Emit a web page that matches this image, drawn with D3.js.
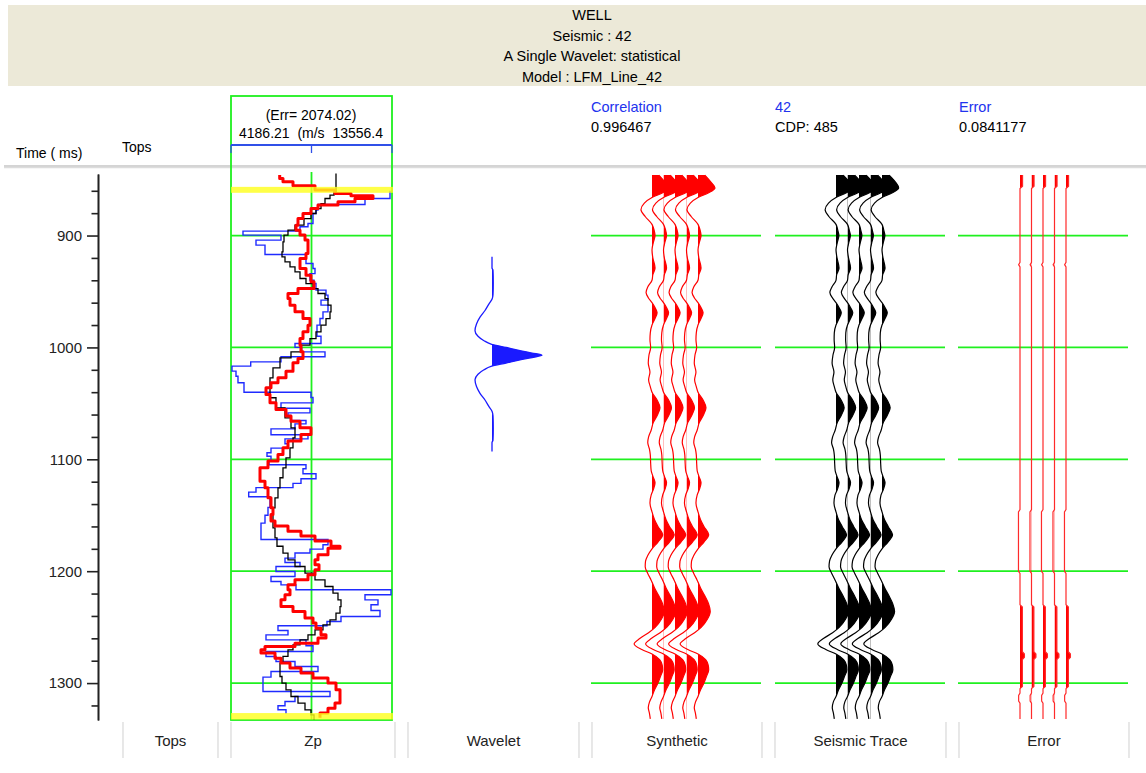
<!DOCTYPE html>
<html>
<head>
<meta charset="utf-8">
<script src="https://cdn.jsdelivr.net/npm/d3@7"></script>
<style>
  body { margin: 0; background: #fff; }
  svg { display: block; }
  text { font-family: "Liberation Sans", Arial, sans-serif; }
</style>
</head>
<body>
<svg id="chart" width="1146" height="773"></svg>
<script>
// ---- header / labels ----
const titleLines = ["WELL", "Seismic : 42", "A Single Wavelet: statistical", "Model : LFM_Line_42"];
const trackNames = ["Tops", "Zp", "Wavelet", "Synthetic", "Seismic Trace", "Error"];
const zpRange = [4186.21, 13556.4];
const zpErr = 2074.02;
const correlation = 0.996467;
const seismicName = "42";
const cdp = 485;
const traceError = 0.0841177;

// ---- time axis (ms) ----
const timeDomain = [845, 1333];
const majorTicks = [900, 1000, 1100, 1200, 1300];
const minorTicks = [860, 880, 920, 940, 960, 980, 1020, 1040, 1060, 1080, 1120, 1140, 1160, 1180, 1220, 1240, 1260, 1280, 1320];

// log marker intervals (ms)
const markerBands = [[856.5, 861.8], [1326.8, 1332.6]];

// ---- Zp well log (blocky), time of each step and value ----
const logTime = [860.0, 866.9, 872.3, 877.3, 880.3, 889.3, 892.2, 896.1, 899.6, 904.1, 908.6, 917.0, 925.0, 929.5, 934.0, 939.9, 942.9, 948.8, 953.3, 957.7, 962.2, 968.2, 974.2, 980.1, 990.0, 996.5, 1000.0, 1004.0, 1008.4, 1012.9, 1016.7, 1021.2, 1025.7, 1031.6, 1040.0, 1044.8, 1049.6, 1054.3, 1058.5, 1060.9, 1065.3, 1068.3, 1072.8, 1078.1, 1081.7, 1086.1, 1090.0, 1094.2, 1097.2, 1101.0, 1104.9, 1108.5, 1112.9, 1117.4, 1121.5, 1125.3, 1129.3, 1133.4, 1143.0, 1150.0, 1157.0, 1171.7, 1176.4, 1180.3, 1183.8, 1188.3, 1192.2, 1195.8, 1200.3, 1204.7, 1209.2, 1212.2, 1216.6, 1221.1, 1225.6, 1230.0, 1235.1, 1240.5, 1245.0, 1248.8, 1253.0, 1256.9, 1261.4, 1266.7, 1271.8, 1276.3, 1280.7, 1285.2, 1289.7, 1294.7, 1307.5, 1312.0, 1316.5, 1320.3, 1323.9, 1327.5];
const logZp = [13440, 11985, 9249, 9133, 8958, 8667, 8202, 4884, 7096, 5641, 6165, 8551, 8958, 9075, 8784, 9017, 9133, 9715, 9831, 9424, 9831, 9540, 9366, 9191, 9424, 7911, 8300, 9657, 7096, 5333, 4244, 4477, 4593, 4943, 8842, 8958, 7096, 8784, 7503, 7678, 8551, 7911, 6514, 8667, 7329, 7503, 6514, 6281, 6514, 6400, 8551, 8376, 9133, 8260, 7794, 5641, 5216, 6456, 6339, 6165, 5932, 9831, 9540, 8784, 7911, 7329, 8202, 6805, 7911, 6514, 7096, 7969, 13498, 11985, 12741, 12334, 12858, 10588, 9773, 6921, 7503, 6223, 8551, 8958, 6223, 6805, 7911, 9249, 6514, 6048, 9948, 7911, 7329, 6921, 7387, 7387];

// ---- initial (low-frequency) model ----
const modelTime = [844.6, 856.5, 861.0, 863.9, 866.9, 871.4, 875.9, 880.3, 884.8, 890.7, 895.2, 899.6, 905.6, 914.6, 919.0, 923.5, 928.0, 932.4, 938.4, 942.9, 947.4, 951.8, 956.3, 962.2, 968.2, 974.2, 980.1, 986.1, 992.1, 998.0, 1003.9, 1009.3, 1018.2, 1027.2, 1036.1, 1045.0, 1054.0, 1062.9, 1071.9, 1080.8, 1089.7, 1098.7, 1107.6, 1116.5, 1125.5, 1134.4, 1143.4, 1152.3, 1161.2, 1170.2, 1177.7, 1183.8, 1189.8, 1195.8, 1201.7, 1207.7, 1213.7, 1219.6, 1225.6, 1231.6, 1237.5, 1243.5, 1248.0, 1252.4, 1256.9, 1261.4, 1265.8, 1270.3, 1276.2, 1282.1, 1288.1, 1294.1, 1300.0, 1306.0, 1312.0, 1317.9, 1323.9, 1328.4, 1332.5];
const modelZp = [10297, 10297, 10181, 9948, 9657, 9424, 9133, 8842, 8435, 7911, 7503, 7271, 7212, 7154, 7329, 7620, 7911, 8202, 8551, 8958, 9249, 9657, 9831, 10006, 9948, 9715, 9424, 9133, 8784, 8260, 7678, 7038, 6630, 6456, 6456, 6805, 7329, 7678, 7911, 7794, 7620, 7387, 7212, 7038, 6921, 6747, 6630, 6630, 6747, 6863, 7212, 7503, 7911, 8493, 9075, 9657, 10122, 10413, 10588, 10530, 10297, 9948, 9540, 9075, 8667, 8202, 7794, 7503, 7212, 7038, 7038, 7154, 7387, 7678, 8085, 8493, 8842, 9017, 9017];

// ---- inverted Zp ----
const invTime = [846.0, 849.1, 852.0, 855.6, 859.4, 862.5, 864.5, 866.9, 869.9, 872.8, 875.9, 880.3, 884.8, 890.7, 895.2, 899.6, 904.1, 910.1, 916.1, 920.6, 925.0, 929.5, 935.4, 941.4, 947.4, 951.8, 956.3, 962.2, 968.2, 974.2, 980.1, 986.1, 992.1, 998.0, 1003.9, 1009.9, 1013.8, 1021.2, 1027.2, 1031.6, 1036.1, 1042.1, 1049.5, 1055.5, 1061.4, 1065.9, 1071.9, 1077.8, 1083.7, 1089.7, 1095.7, 1101.6, 1107.6, 1113.6, 1119.5, 1125.5, 1134.4, 1143.4, 1149.3, 1155.2, 1159.7, 1164.2, 1168.6, 1173.1, 1177.6, 1179.4, 1185.4, 1189.8, 1194.3, 1198.8, 1203.2, 1207.7, 1212.2, 1216.6, 1221.1, 1225.6, 1231.6, 1236.0, 1241.9, 1246.4, 1250.9, 1256.8, 1259.8, 1264.3, 1267.3, 1270.2, 1273.2, 1277.7, 1282.1, 1286.6, 1291.1, 1295.5, 1300.0, 1306.0, 1312.0, 1317.9, 1322.4, 1326.8, 1331.0];
const invZp = [7020, 7212, 7794, 9075, 10239, 11170, 12450, 11403, 10413, 9249, 8842, 8376, 8085, 7969, 8202, 8493, 8667, 8667, 8551, 8202, 8202, 8551, 8842, 9017, 8085, 7503, 7620, 7911, 8376, 8784, 8667, 8376, 8202, 8260, 8376, 8085, 7794, 7387, 6921, 6514, 6223, 6456, 6805, 7387, 7678, 8202, 8842, 8260, 7503, 7212, 6921, 6339, 5874, 5874, 6165, 6339, 6514, 6630, 6514, 6747, 7503, 8260, 9075, 10006, 10530, 9831, 9249, 9075, 9308, 9075, 8667, 7911, 7503, 7620, 7329, 7096, 7794, 8493, 8958, 9133, 9424, 9715, 9249, 7911, 6165, 5932, 6747, 7096, 7620, 8260, 8958, 9831, 10297, 10530, 10530, 10239, 9831, 9366, 9366];

// ---- statistical wavelet (time relative to centre, ms) ----
const waveletTime = [-88, -78, -76, -65, -54, -50, -46, -40, -34, -28, -22, -17, -13, -10, -7, -4, -2, 0, 2, 4, 7, 10, 13, 17, 22, 28, 34, 40, 46, 50, 54, 65, 76, 78, 86];
const waveletAmp = [0, 0, 0.02, 0.025, 0.02, 0, -0.06, -0.14, -0.24, -0.31, -0.34, -0.28, -0.16, -0.02, 0.28, 0.58, 0.8, 1.0, 0.8, 0.58, 0.28, -0.02, -0.16, -0.28, -0.34, -0.31, -0.24, -0.14, -0.06, 0, 0.02, 0.025, 0.02, 0, 0];
const waveletCentre = 1007;

// ---- synthetic / seismic traces (normalised amplitude) ----
const traceTime = [846, 852, 857.5, 862, 866, 871, 877, 883, 890, 895, 900, 906, 913, 920, 929, 935, 940, 946, 951, 956, 960, 965, 969, 975, 980, 987, 993, 1000, 1007, 1014, 1022, 1029, 1035, 1040, 1047, 1054, 1061, 1067, 1074, 1080, 1085, 1091, 1096, 1103, 1110, 1115, 1121, 1127, 1132, 1139, 1147, 1154, 1160, 1167.5, 1174, 1180, 1186, 1191, 1196, 1202, 1208, 1215, 1222, 1229, 1236, 1243, 1250, 1255, 1260, 1265, 1270, 1274, 1279, 1284, 1288, 1294, 1300, 1306, 1312, 1317, 1322, 1327, 1332];
const synthAmp = [0.4, 0.75, 1.0, 0.6, 0.0, -0.45, -0.65, -0.4, 0.0, 0.12, 0.18, 0.08, 0.0, 0.05, 0.18, 0.05, 0.0, -0.25, -0.35, -0.2, 0.0, 0.2, 0.3, 0.15, 0.0, -0.1, -0.12, -0.08, -0.18, -0.22, -0.12, -0.2, -0.1, 0.0, 0.3, 0.47, 0.3, 0.08, -0.05, -0.2, -0.25, -0.15, -0.1, -0.08, -0.05, 0.05, 0.18, 0.08, -0.05, -0.12, 0.0, 0.15, 0.35, 0.63, 0.35, 0.0, -0.25, -0.38, -0.4, -0.25, -0.05, 0.15, 0.4, 0.62, 0.72, 0.55, 0.2, -0.2, -0.7, -1.05, -0.6, 0.0, 0.45, 0.6, 0.63, 0.5, 0.35, 0.15, 0.0, -0.15, -0.22, -0.15, -0.1];
const seismicAmp = [0.42, 0.78, 0.98, 0.58, 0.0, -0.44, -0.64, -0.42, 0.0, 0.1, 0.17, 0.08, 0.0, 0.06, 0.18, 0.04, 0.0, -0.24, -0.36, -0.2, 0.0, 0.2, 0.31, 0.15, 0.0, -0.1, -0.11, -0.08, -0.18, -0.23, -0.12, -0.19, -0.1, 0.0, 0.3, 0.48, 0.3, 0.08, -0.05, -0.2, -0.26, -0.15, -0.1, -0.08, -0.05, 0.05, 0.18, 0.08, -0.06, -0.12, 0.0, 0.15, 0.36, 0.62, 0.35, 0.0, -0.25, -0.38, -0.41, -0.25, -0.05, 0.16, 0.41, 0.63, 0.74, 0.56, 0.2, -0.2, -0.72, -1.07, -0.6, 0.0, 0.45, 0.61, 0.64, 0.5, 0.35, 0.15, 0.0, -0.16, -0.22, -0.15, -0.1];

// ---- residual (seismic - synthetic) ----
const errTime = [846, 856, 858, 924, 926, 928, 1145, 1147, 1200, 1202, 1230, 1232, 1272, 1274, 1277, 1279, 1303, 1305, 1309, 1311, 1316, 1318, 1332];
const errAmp = [0.15, 0.15, 0, 0, -0.08, 0, 0, -0.09, -0.09, 0, 0, 0.14, 0.14, 0.26, 0.26, 0.14, 0.14, 0, 0, -0.08, -0.08, 0, 0];

// =================== drawing ===================
const svg = d3.select("#chart");
const defs = svg.append("defs");
const GREEN = "#1ff01f";

const y = d3.scaleLinear().domain(timeDomain).range([174, 720]);
const xZp = d3.scaleLinear().domain(zpRange).range([231, 392]);
const ampScale = d3.scaleLinear().domain([0, 1]).range([0, 17]);
const wavScale = d3.scaleLinear().domain([0, 1]).range([0, 50]);

// title band
svg.append("rect").attr("x", 8).attr("y", 5).attr("width", 1138).attr("height", 81).attr("fill", "#ece9d8");
svg.selectAll("text.title").data(titleLines).join("text")
  .attr("class", "title")
  .attr("x", 592).attr("y", (d, i) => 20 + i * 20.5)
  .attr("text-anchor", "middle").attr("font-size", 14.5).attr("fill", "#000")
  .text(d => d);

// separator under the column headers
svg.append("line").attr("x1", 4).attr("x2", 1146).attr("y1", 166).attr("y2", 166).attr("stroke", "#a8a8a8").attr("stroke-width", 1);
svg.append("line").attr("x1", 4).attr("x2", 1146).attr("y1", 167.5).attr("y2", 167.5).attr("stroke", "#dcdcdc").attr("stroke-width", 1.5);

// column headers
svg.append("text").attr("x", 16).attr("y", 158).attr("font-size", 14).text("Time ( ms)");
svg.append("text").attr("x", 122).attr("y", 152).attr("font-size", 14).text("Tops");

// Zp header box
svg.append("rect").attr("x", 231).attr("y", 96).attr("width", 161).attr("height", 624)
  .attr("fill", "none").attr("stroke", GREEN).attr("stroke-width", 1.8);
svg.append("text").attr("x", 311).attr("y", 120).attr("text-anchor", "middle").attr("font-size", 14)
  .text(`(Err= ${zpErr.toFixed(2)})`);
svg.append("text").attr("x", 311).attr("y", 138).attr("text-anchor", "middle").attr("font-size", 14)
  .attr("xml:space", "preserve")
  .text(`${zpRange[0]}  (m/s  ${zpRange[1]}`);
const zpAxis = svg.append("g").attr("transform", "translate(0,145)");
zpAxis.append("line").attr("x1", xZp(zpRange[0])).attr("x2", xZp(zpRange[1])).attr("stroke", "#3050e8").attr("stroke-width", 2);
zpAxis.selectAll("line.tk").data([zpRange[0], (zpRange[0] + zpRange[1]) / 2, zpRange[1]]).join("line")
  .attr("class", "tk").attr("x1", d => xZp(d)).attr("x2", d => xZp(d)).attr("y1", 0).attr("y2", 8)
  .attr("stroke", "#3050e8").attr("stroke-width", 1.3);

// info headers
const info = [
  { x: 591, head: "Correlation", val: String(correlation) },
  { x: 775, head: seismicName, val: `CDP: ${cdp}` },
  { x: 959, head: "Error", val: String(traceError) }
];
info.forEach(d => {
  svg.append("text").attr("x", d.x).attr("y", 112).attr("font-size", 14.5).attr("fill", "#2233ee").text(d.head);
  svg.append("text").attr("x", d.x).attr("y", 132).attr("font-size", 14.5).attr("fill", "#000").text(d.val);
});

// time axis
const axisG = svg.append("g").attr("transform", "translate(98,0)");
axisG.call(d3.axisLeft(y).tickValues(majorTicks).tickFormat(d3.format("d")).tickSize(11).tickSizeOuter(0).tickPadding(5));
axisG.call(g => g.append("g").call(d3.axisLeft(y).tickValues(minorTicks).tickSize(6.5).tickSizeOuter(0).tickFormat("")));
axisG.selectAll("path.domain").attr("stroke", "#222").attr("stroke-width", 1.6);
axisG.selectAll(".tick line").attr("stroke", "#222").attr("stroke-width", 1.6);
axisG.selectAll(".tick text").attr("font-size", 15).attr("fill", "#222")
  .attr("font-family", "'Liberation Sans', Arial, sans-serif");

// grid lines in tracks
const gridTracks = [[231, 392], [591, 761], [775, 945], [958, 1128]];
gridTracks.forEach(([a, b]) => {
  svg.append("g").selectAll("line").data(majorTicks).join("line")
    .attr("x1", a).attr("x2", b).attr("y1", d => y(d)).attr("y2", d => y(d))
    .attr("stroke", GREEN).attr("stroke-width", 1.8);
});
svg.append("line").attr("x1", xZp((zpRange[0] + zpRange[1]) / 2)).attr("x2", xZp((zpRange[0] + zpRange[1]) / 2))
  .attr("y1", 172).attr("y2", 720).attr("stroke", GREEN).attr("stroke-width", 1.8);

// Zp curves
const stepLine = d3.line().x(d => xZp(d[1])).y(d => y(d[0])).curve(d3.curveStepBefore);
const zpG = svg.append("g");
zpG.append("path").attr("d", stepLine(d3.zip(logTime, logZp))).attr("fill", "none").attr("stroke", "#1f2bff").attr("stroke-width", 1.4);
zpG.append("path").attr("d", stepLine(d3.zip(modelTime, modelZp))).attr("fill", "none").attr("stroke", "#000").attr("stroke-width", 1.3);
zpG.append("path").attr("d", stepLine(d3.zip(invTime, invZp))).attr("fill", "none").attr("stroke", "#ff0000").attr("stroke-width", 3).attr("stroke-linejoin", "round");

// log marker bands
svg.selectAll("rect.band").data(markerBands).join("rect").attr("class", "band")
  .attr("x", 231).attr("width", 162)
  .attr("y", d => y(d[0])).attr("height", d => y(d[1]) - y(d[0]))
  .attr("fill", "#ffff1a").attr("opacity", 0.8);

// variable-area wiggle trace
let clipN = 0;
function wiggle(times, amps, baseX, scale, color, lineW, tOffset = 0) {
  const pts = d3.zip(times, amps);
  const id = "clip" + (clipN++);
  defs.append("clipPath").attr("id", id).append("rect")
    .attr("x", baseX).attr("y", 0).attr("width", 120).attr("height", 773);
  const area = d3.area().curve(d3.curveMonotoneY)
    .y(d => y(d[0] + tOffset)).x0(baseX).x1(d => baseX + scale(d[1]));
  const line = d3.line().curve(d3.curveMonotoneY)
    .y(d => y(d[0] + tOffset)).x(d => baseX + scale(d[1]));
  const g = svg.append("g");
  g.append("path").attr("d", area(pts)).attr("fill", color).attr("clip-path", `url(#${id})`);
  g.append("path").attr("d", line(pts)).attr("fill", "none").attr("stroke", color).attr("stroke-width", lineW);
}

// wavelet
wiggle(waveletTime, waveletAmp, 492, wavScale, "#1a1aff", 1.3, waveletCentre);

// synthetic, seismic and error panels, five repeated traces each
const traceOffsets = [0, 11.5, 23, 34.5, 46];
traceOffsets.forEach(o => wiggle(traceTime, synthAmp, 652 + o, ampScale, "#ff0000", 1.2));
traceOffsets.forEach(o => wiggle(traceTime, seismicAmp, 836 + o, ampScale, "#000000", 1.2));
traceOffsets.forEach(o => {
  const pts = d3.zip(errTime, errAmp);
  const id = "clip" + (clipN++);
  const bx = 1020 + o;
  defs.append("clipPath").attr("id", id).append("rect").attr("x", bx).attr("y", 0).attr("width", 20).attr("height", 773);
  svg.append("path").attr("d", d3.area().y(d => y(d[0])).x0(bx).x1(d => bx + ampScale(d[1]))(pts))
    .attr("fill", "#ff0000").attr("clip-path", `url(#${id})`);
  svg.append("path").attr("d", d3.line().y(d => y(d[0])).x(d => bx + ampScale(d[1]))(pts))
    .attr("fill", "none").attr("stroke", "#ff2a2a").attr("stroke-width", 1.2);
});

// footer with track names
const columns = [[123, 218], [231, 395], [408, 579], [592, 762], [775, 946], [959, 1129]];
const foot = svg.append("g");
columns.forEach(([a, b], i) => {
  [a, b].forEach(x => foot.append("line").attr("x1", x).attr("x2", x).attr("y1", 722).attr("y2", 758)
    .attr("stroke", "#d8d8d8").attr("stroke-width", 1.2));
  foot.append("text").attr("x", (a + b) / 2).attr("y", 746).attr("text-anchor", "middle")
    .attr("font-size", 15).attr("fill", "#222").text(trackNames[i]);
});
</script>
</body>
</html>
